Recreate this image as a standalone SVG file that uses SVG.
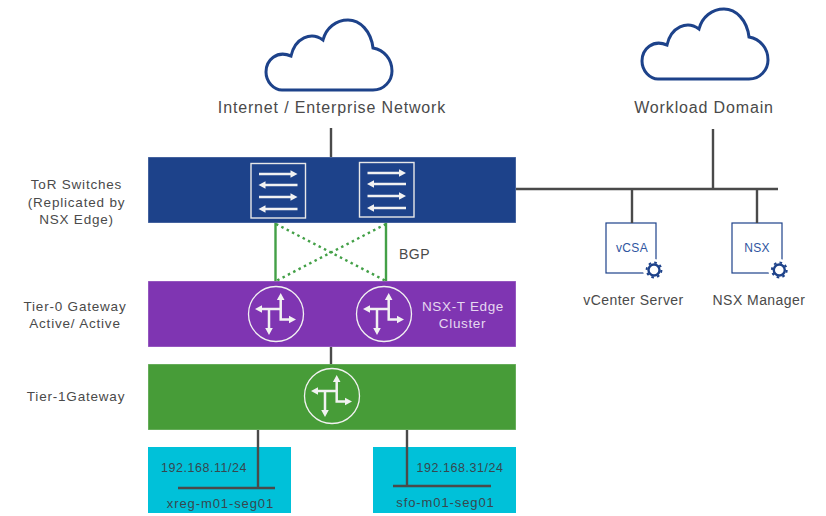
<svg xmlns="http://www.w3.org/2000/svg" width="826" height="516" viewBox="0 0 826 516">
<style>
text{font-family:"Liberation Sans",Arial,sans-serif;fill:#4a4a4a;font-size:13.500px;letter-spacing:.8px;text-anchor:middle}
.big{font-size:16px;letter-spacing:.85px}
.band{stroke-width:1;stroke-opacity:.35;stroke:#fff}
.wire{stroke:#4a4a4a;stroke-width:2.400;fill:none}
.g{stroke:#43a047;stroke-width:2.400;fill:none}
.d{stroke-dasharray:2.500 3.500}
.cloud{fill:#fff;stroke:#1d428a;stroke-width:3}
.ar{stroke:#f2f2f2;stroke-width:2.500;fill:none}
.ah{fill:#f2f2f2}
.vm{fill:#fff;stroke:#1d428a;stroke-width:1.200}
.lt{fill:#e6d8f0;letter-spacing:.65px}
.seg{fill:#37474f;font-size:13px;letter-spacing:.9px}
.ip{fill:#37474f;font-size:12.500px;letter-spacing:.55px}
.in{fill:#2f55a0;font-size:12px;letter-spacing:.3px}
.cap{font-size:14px;letter-spacing:.45px}
</style>
<defs>
<path id="cl" class="cloud" d="M282 90H373C384 90 392 81 392 71C392 59 384 50 373 48C371 31 360 20 348 20C336 20 326 28 323 40C311 31 295 38 291 56C277 50 266 60 266 72C266 82 274 90 282 90Z"/>
<g id="router">
<circle r="27.500" fill="none" stroke="#f2f2f2" stroke-width="1.300"/>
<path class="ar" d="M4.700 -16V5.500H15M-16 -5H4.700M-7 -5V16"/>
<path class="ah" d="M4.700 -21L8.500 -14H.9ZM20 5.500L13 1.700V9.300ZM-21 -5L-14 -8.800V-1.200ZM-7 21L-10.800 14H-3.200Z"/>
</g>
<g id="switch">
<rect x=".5" y=".5" width="54.500" height="54.500" fill="none" stroke="#e8e8e8" stroke-width="1.400"/>
<path class="ar" d="M8.500 11H42M13 22H47M8.500 34H42M13 46H47"/>
<path class="ah" d="M47 11L40 7.200V14.800ZM8 22L15 18.200V25.800ZM47 34L40 30.200V37.800ZM8 46L15 42.200V49.800Z"/>
</g>
<g id="gear">
<circle r="11" fill="#fff"/>
<circle r="5.500" fill="#fff" stroke="#1d428a" stroke-width="2.400"/>
<circle r="7.400" fill="none" stroke="#1d428a" stroke-width="2" stroke-dasharray="2.600 3.210"/>
</g>
</defs>

<g id="internet">
<use href="#cl"/>
<text class="big" x="332" y="113">Internet / Enterprise Network</text>
</g>
<g id="workload-domain">
<use href="#cl" transform="translate(376 -11)"/>
<text class="big" x="704" y="113">Workload Domain</text>
</g>

<g id="tor-switches">
<rect class="band" x="148" y="157" width="368" height="66" fill="#1d428a"/>
<use href="#switch" x="250.500" y="163"/>
<use href="#switch" x="359" y="162"/>
<text x="76.500" y="189">ToR Switches</text>
<text x="76.500" y="207">(Replicated by</text>
<text x="76.500" y="224">NSX Edge)</text>
</g>

<text id="bgp" x="414.500" y="259" style="font-size:14px;letter-spacing:.5px">BGP</text>

<g id="tier-0">
<rect class="band" x="148" y="281" width="368" height="66" fill="#7f35b2"/>
<use href="#router" x="276" y="314"/>
<use href="#router" x="384" y="314"/>
<text class="lt" x="463" y="311">NSX-T Edge</text>
<text class="lt" x="462.500" y="328">Cluster</text>
<text x="75" y="311">Tier-0 Gateway</text>
<text x="75" y="328">Active/ Active</text>
</g>

<g id="tier-1">
<rect class="band" x="148" y="364" width="368" height="66" fill="#479c38"/>
<use href="#router" x="332" y="396"/>
<text x="76" y="401">Tier-1Gateway</text>
</g>

<g id="seg-xreg">
<rect x="148" y="447" width="143" height="66" fill="#00c1d9"/>
<text class="ip" x="204" y="472">192.168.11/24</text>
<text class="seg" x="220.500" y="508">xreg-m01-seg01</text>
</g>
<g id="seg-sfo">
<rect x="373" y="447" width="143" height="66" fill="#00c1d9"/>
<text class="ip" x="460" y="472">192.168.31/24</text>
<text class="seg" x="445.500" y="507">sfo-m01-seg01</text>
</g>

<g id="vcenter">
<rect class="vm" x="606" y="223" width="50" height="50"/>
<use href="#gear" x="654" y="270"/>
<text class="in" x="632" y="252">vCSA</text>
<text class="cap" x="633.500" y="305">vCenter Server</text>
</g>
<g id="nsx-manager">
<rect class="vm" x="732" y="223" width="50" height="50"/>
<use href="#gear" x="779.300" y="270"/>
<text class="in" x="757" y="252">NSX</text>
<text class="cap" x="759" y="305">NSX Manager</text>
</g>

<g id="connectors">
<path class="wire" d="M331 128V157M331 347V364M516 189H778M713 129V189M632 189V223M757 189V223M258 430V488M178 488H275M407 430V486M393 486H491"/>
<path class="g" d="M275.500 223V281M386 223V281"/>
<path class="g d" d="M276 224L386 281M386 224L276 281"/>
</g>
</svg>
